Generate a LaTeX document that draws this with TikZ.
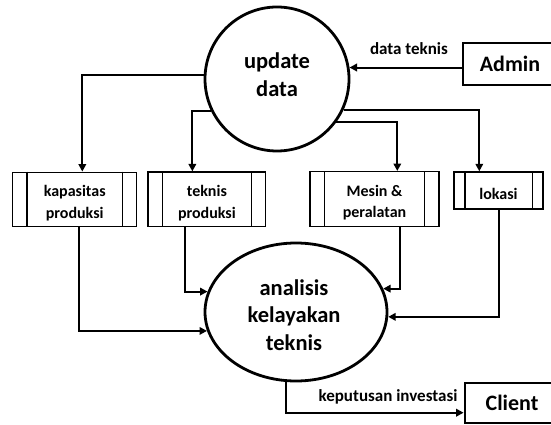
\documentclass[tikz,border=0pt]{standalone}
\usepackage{fontspec}
\setmainfont{Carlito}
\usetikzlibrary{shapes.geometric,arrows.meta}
\begin{document}
\begin{tikzpicture}[x=1pt,y=-1pt,
  arr/.style={line width=2pt,-{Triangle[length=7.5pt,width=7.5pt]}},
  dbox/.style={draw,line width=1.4pt,inner sep=0pt},
  dtxt/.style={align=center,inner sep=0pt,font=\fontsize{16}{21.6}\selectfont\bfseries},
  ext/.style={draw,line width=2.8pt,inner sep=0pt,font=\fontsize{22}{25}\selectfont\bfseries},
  proc/.style={draw,line width=2.8pt,inner sep=0pt},
  big/.style={align=center,font=\fontsize{22.5}{27.5}\selectfont\bfseries},
  lbl/.style={font=\fontsize{17}{19}\selectfont\bfseries,inner sep=0pt}]
\useasboundingbox (0,0) rectangle (551,425);
\fill[white] (0,0) rectangle (551,425);
% processes
\node[proc,circle,minimum size=144pt] (upd) at (277,79) {};
\node[big] (updtxt) at (277,74.5) {update\\data};
\node[proc,ellipse,minimum width=182pt,minimum height=138pt] (ell) at (296,312) {};
\node[big] (elltxt) at (294,315) {analisis\\kelayakan\\teknis};
% externals
\node[ext,minimum width=94pt,minimum height=42pt] (adm) at (510,64) {Admin};
\node[ext,minimum width=94pt,minimum height=40pt] (cli) at (512,403) {Client};
% data stores
\node[dbox,minimum width=124pt,minimum height=54.4pt] (kap) at (74.7,199.5) {};
\node[dbox,minimum width=117.7pt,minimum height=54.6pt] (tek) at (206.9,199.4) {};
\node[dbox,minimum width=129pt,minimum height=55pt] (mes) at (374.5,199.2) {};
\node[dbox,minimum width=89pt,minimum height=37pt] (lok) at (498.5,190.5) {};
\node[dtxt] (kapt) at (74.7,203) {kapasitas\\produksi};
\node[dtxt] (tekt) at (206.9,203) {teknis\\produksi};
\node[dtxt] (mest) at (374.5,202.5) {Mesin \&\\peralatan};
\node[dtxt] (lokt) at (498.5,193.5) {lokasi};
\foreach \n/\d in {kap/15,tek/15,mes/15,lok/11.5}{
  \draw[line width=1.4pt] ([xshift=\d pt]\n.north west) -- ([xshift=\d pt]\n.south west);
  \draw[line width=1.4pt] ([xshift=-\d pt]\n.north east) -- ([xshift=-\d pt]\n.south east);
}
% flows
\draw[arr] (adm.west |- upd.9.6) -- (upd.9.6);
\node[lbl] (l1) at (409,49) {data teknis};
\draw[arr] (upd.177) -| ([xshift=70.3pt]kap.north west);
\draw[arr] (upd.206.4) -| ([xshift=45pt]tek.north west);
\draw[arr] (upd.-36.7) -| ([xshift=88pt]mes.north west);
\draw[arr] (upd.-25.5) -| ([xshift=26pt]lok.north west);
\draw[arr] ([xshift=67.3pt]kap.south west) |- (ell.192);
\draw[arr] ([xshift=37.7pt]tek.south west) |- (ell.167.5);
\draw[arr] ([xshift=91pt]mes.south west) |- (ell.15);
\draw[arr] ([xshift=45.3pt]lok.south west) |- (ell.-3.8);
\draw[arr] (ell.262) |- ([yshift=-9.7pt]cli.west);
\node[lbl] (l2) at (388,396.7) {keputusan investasi};
\end{tikzpicture}
\end{document}
